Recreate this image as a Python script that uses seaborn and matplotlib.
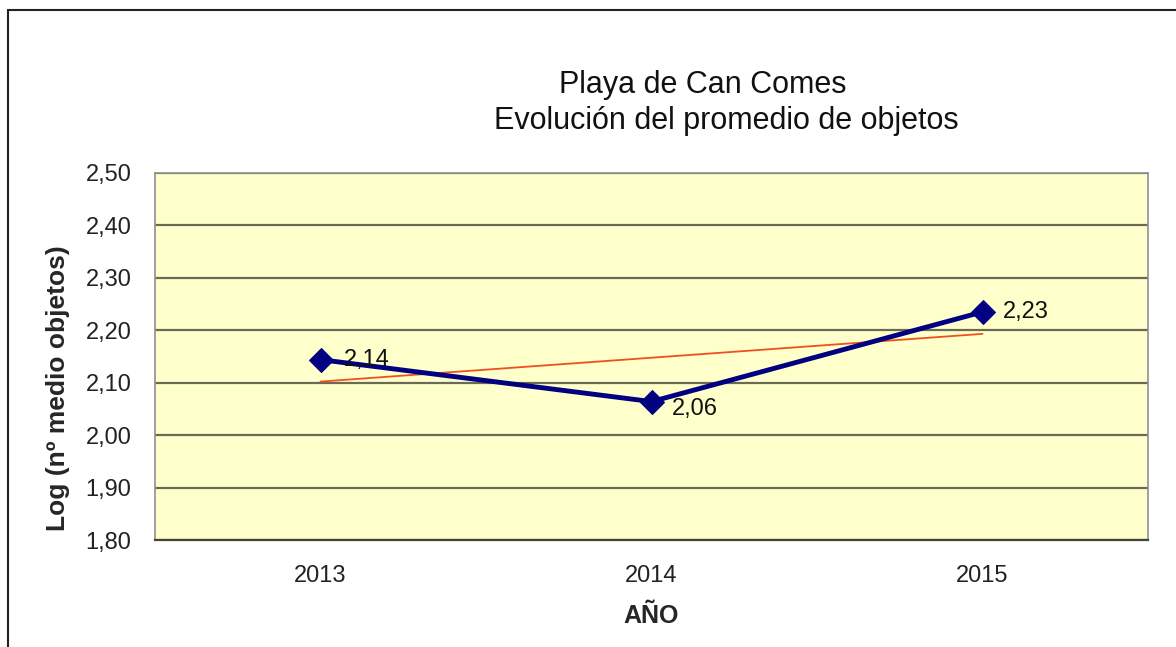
import numpy as np
import pandas as pd
import matplotlib
matplotlib.use("Agg")
import matplotlib.pyplot as plt
from matplotlib.ticker import FuncFormatter, FixedLocator
from matplotlib.patches import Rectangle
import seaborn as sns

# data
years = [2013, 2014, 2015]
log_mean_objects = [2.144, 2.064, 2.235]
point_labels = ["2,14", "2,06", "2,23"]
label_offsets = [(17, 0), (15, -5), (15, 0)]

title_lines = ["Playa de Can Comes", "Evolución del promedio de objetos"]
ylabel = "Log (nº medio objetos)"
xlabel = "AÑO"

df = pd.DataFrame({"year": years, "value": log_mean_objects})

sns.set_style("white")
plt.rcParams["font.family"] = ["Liberation Sans", "DejaVu Sans"]

fig = plt.figure(figsize=(11.76, 6.47), dpi=100)
ax = fig.add_axes([155 / 1176, 1 - 540 / 647, (1148 - 155) / 1176, (540 - 173) / 647])
ax.set_facecolor("#FFFFCC")

# linear trend line (drawn first so the data line sits above it)
sns.regplot(data=df, x="year", y="value", ax=ax, scatter=False, ci=None,
            truncate=True, line_kws={"color": "#F05020", "lw": 1.3, "zorder": 3})

sns.lineplot(data=df, x="year", y="value", ax=ax, color="#000080", lw=3.5,
             marker="D", markersize=12, markeredgecolor="#000080", zorder=4)

for x, y, lab, off in zip(years, log_mean_objects, point_labels, label_offsets):
    ax.annotate(lab, (x, y), xytext=off, textcoords="offset points",
                ha="left", va="center", fontsize=17, color="#111111", zorder=5)

ax.set_xlim(2012.5, 2015.5)
ax.set_ylim(1.80, 2.50)
ax.set_yticks(np.arange(1.80, 2.501, 0.10))
ax.yaxis.set_major_formatter(FuncFormatter(lambda v, p: f"{v:.2f}".replace(".", ",")))
ax.set_xticks(years)
ax.set_xticklabels([str(y) for y in years])
ax.xaxis.set_minor_locator(FixedLocator([2012.5, 2013.5, 2014.5, 2015.5]))

ax.tick_params(axis="x", which="major", length=0, labelsize=17, pad=18, labelcolor="#222222")
ax.tick_params(axis="x", which="minor", length=7, width=1, color="#444444", direction="out")
ax.tick_params(axis="y", which="major", length=6, width=1, color="#888888", direction="out",
               labelsize=17, pad=11, labelcolor="#222222")

ax.grid(axis="y", color="#6a6a55", lw=1.6)
ax.grid(axis="x", visible=False)
ax.set_axisbelow(True)

for side in ["top", "right", "left"]:
    ax.spines[side].set_color("#909090")
    ax.spines[side].set_linewidth(1.2)
ax.spines["bottom"].set_color("#444433")
ax.spines["bottom"].set_linewidth(1.6)

ax.set_ylabel(ylabel, fontsize=19, fontweight="bold")
ax.yaxis.set_label_coords((70 - 155) / 993, (540 - 388) / 367)
ax.set_xlabel(xlabel, fontsize=18, fontweight="bold", labelpad=12)

fig.text(703 / 1176, 1 - 85 / 647, title_lines[0], ha="center", va="center",
         fontsize=22, color="#111111")
fig.text(726 / 1176, 1 - 121 / 647, title_lines[1], ha="center", va="center",
         fontsize=22, color="#111111")

# outer chart frame
fig.patches.append(Rectangle((8 / 1176, -0.1), 1.2, 1.1 - 10 / 647, transform=fig.transFigure,
                             fill=False, edgecolor="#222222", lw=1.5))

fig.savefig("out.png", dpi=100)
